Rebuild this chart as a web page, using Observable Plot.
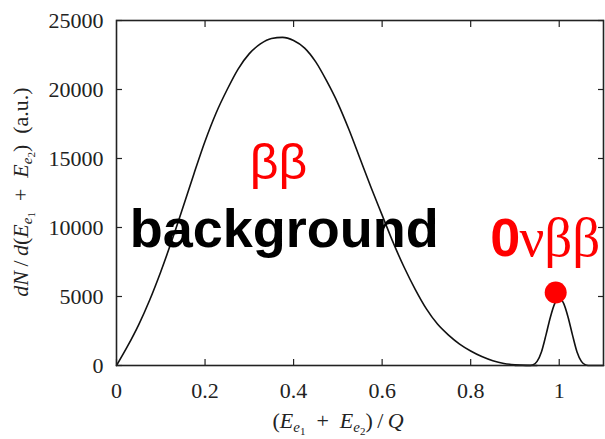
<!DOCTYPE html>
<html><head><meta charset="utf-8">
<script src="https://cdn.jsdelivr.net/npm/d3@7"></script>
<script src="https://cdn.jsdelivr.net/npm/@observablehq/plot@0.6"></script>
<style>body{margin:0;background:#fff;overflow:hidden}</style>
</head><body><div id="chart"></div>
<script>
// ββ (two-neutrino) background spectrum
const bgX = [0,0.025,0.05,0.075,0.1,0.125,0.15,0.175,0.2,0.225,0.25,0.275,0.3,0.325,0.35,0.375,0.4,0.425,0.45,0.475,0.5,0.525,0.55,0.575,0.6,0.625,0.65,0.675,0.7,0.725,0.75,0.775,0.8,0.825,0.85,0.875,0.9,0.925,0.95];
const bgY = [0,1400,2950,4750,6800,9050,11450,13900,16250,18300,20000,21500,22600,23300,23700,23780,23550,23000,22000,20600,19000,17100,15000,12900,10900,8900,7100,5500,4100,3000,2200,1550,1050,650,350,150,50,10,0];
// 0νββ peak
const peakX = [0.9,0.93,0.94,0.95,0.96,0.97,0.98,0.99,1.0,1.01,1.02,1.03,1.04,1.05,1.06,1.07,1.1];
const peakY = [0,0,40,300,1000,2200,3500,4500,4850,4500,3500,2200,1000,300,40,0,0];
// marker
const markerX = [0.992];
const markerY = [5290];
// ticks
const xTicks = [0,0.2,0.4,0.6,0.8,1];
const yTicks = [0,5000,10000,15000,20000,25000];
// annotations
const annoTexts = ["ββ","background","0","νββ"];
const annoX = [0.366,0.379,0.844,0.91];
const annoY = [13550,8570,7970,7970];

const bg = bgX.map((x,i)=>({x, y:bgY[i]}));
const pk = peakX.map((x,i)=>({x, y:peakY[i]}));
const mk = markerX.map((x,i)=>({x, y:markerY[i]}));
const anno = annoTexts.map((t,i)=>({t, x:annoX[i], y:annoY[i]}));

const serif = "'Liberation Serif', serif";
const chart = Plot.plot({
  width: 605, height: 439,
  marginLeft: 116, marginRight: 2, marginTop: 20, marginBottom: 74,
  style: {fontFamily: serif, fontSize: "22px", color: "#222", background: "white", overflow: "visible"},
  x: {domain: [0, 1.1]},
  y: {domain: [0, 25000]},
  marks: [
    Plot.axisX(xTicks, {anchor: "bottom", tickSize: -6, tickPadding: 23, tickFormat: d => String(d), label: null, strokeWidth: 1.2}),
    Plot.axisX(xTicks.slice(1), {anchor: "top", tickSize: -6, tickFormat: () => "", label: null, strokeWidth: 1.2}),
    Plot.axisY(yTicks, {anchor: "left", tickSize: -6, tickPadding: 19, tickFormat: d => String(d), label: null, strokeWidth: 1.2}),
    Plot.axisY(yTicks.slice(1), {anchor: "right", tickSize: -6, tickFormat: () => "", label: null, strokeWidth: 1.2}),
    Plot.line(bg, {x: "x", y: "y", stroke: "#111", strokeWidth: 1.6, curve: "monotone-x"}),
    Plot.line(pk, {x: "x", y: "y", stroke: "#111", strokeWidth: 1.6, curve: "monotone-x"}),
    Plot.frame({stroke: "#222", strokeWidth: 1.6}),
    Plot.text([anno[0]], {x: "x", y: "y", text: "t", fill: "red", fontFamily: "Liberation Sans", fontSize: 50, textAnchor: "middle", lineAnchor: "bottom"}),
    Plot.text([anno[1]], {x: "x", y: "y", text: "t", fill: "black", fontFamily: "Liberation Sans", fontWeight: "bold", fontSize: 54, textAnchor: "middle", lineAnchor: "bottom"}),
    Plot.text([anno[2]], {x: "x", y: "y", text: "t", fill: "red", fontFamily: "Liberation Sans", fontWeight: "bold", fontSize: 54, textAnchor: "start", lineAnchor: "bottom"}),
    Plot.text([anno[3]], {x: "x", y: "y", text: "t", fill: "red", fontFamily: "Liberation Serif", fontSize: 55, textAnchor: "start", lineAnchor: "bottom"}),
    Plot.dot(mk, {x: "x", y: "y", r: 11, fill: "red", stroke: "none"})
  ]
});
document.getElementById("chart").appendChild(chart);

const svg = d3.select(chart);
svg.selectAll("[aria-label='x-axis tick label'] text, [aria-label='y-axis tick label'] text")
  .style("font-family", serif).style("font-size", "22px");

// rich-text axis titles with subscripts
function rich(sel, segs, base) {
  let prev = 0;
  for (const s of segs) {
    const ts = sel.append("tspan").text(s.t).attr("font-size", s.size || base);
    if (s.it) ts.attr("font-style", "italic");
    const shift = s.sh || 0;
    if (shift !== prev) ts.attr("dy", shift - prev);
    prev = shift;
  }
}
const E = n => [
  {t:"E", it:true}, {t:"e", it:true, sh:4, size:15}, {t:n, sh:7, size:11}
];
const plus = {t:"\u2002+\u2002"};
const xl = svg.append("text").attr("x", 338).attr("y", 428).attr("text-anchor", "middle")
  .style("font-family", serif).attr("fill", "#222").attr("xml:space", "preserve");
rich(xl, [{t:"("}, ...E("1"), plus, ...E("2"), {t:")\u2009/\u2009"}, {t:"Q", it:true}], 22);

const yl = svg.append("text").attr("transform", "translate(28,192) rotate(-90)").attr("text-anchor", "middle")
  .style("font-family", serif).attr("fill", "#222").attr("xml:space", "preserve");
rich(yl, [{t:"dN", it:true}, {t:"\u2009/\u2009"}, {t:"d", it:true}, {t:"("}, ...E("1"), plus, ...E("2"), {t:")\u2002(a.u.)"}], 22);
</script>
</body></html>
